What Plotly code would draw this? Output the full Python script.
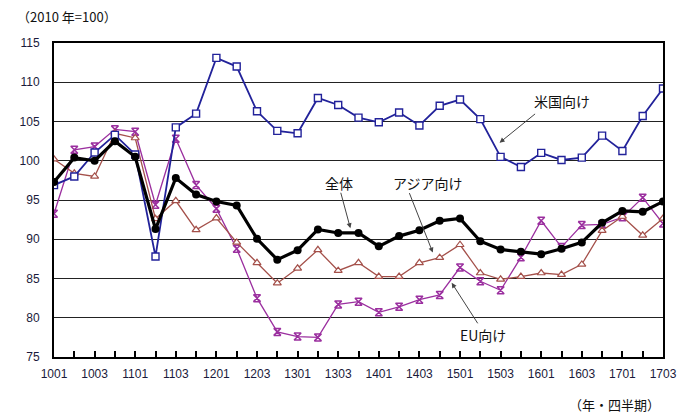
import plotly.graph_objects as go

quarters = ["1001", "1002", "1003", "1004", "1101", "1102", "1103", "1104",
            "1201", "1202", "1203", "1204", "1301", "1302", "1303", "1304",
            "1401", "1402", "1403", "1404", "1501", "1502", "1503", "1504",
            "1601", "1602", "1603", "1604", "1701", "1702", "1703"]

total = [97.3, 100.4, 100.0, 102.5, 100.5, 91.3, 97.8, 95.7,
         94.8, 94.3, 90.05, 87.4, 88.6, 91.25, 90.8, 90.8,
         89.1, 90.4, 91.15, 92.35, 92.65, 89.75, 88.7, 88.4,
         88.1, 88.8, 89.6, 92.1, 93.6, 93.5, 94.8]

usa = [96.9, 98.0, 101.05, 103.3, 100.8, 87.8, 104.25, 106.0,
       113.1, 112.0, 106.3, 103.8, 103.5, 108.0, 107.1, 105.5,
       104.9, 106.15, 104.5, 107.0, 107.8, 105.3, 100.5, 99.2,
       101.0, 100.1, 100.4, 103.2, 101.25, 105.7, 109.2]

asia = [100.2, 98.4, 98.0, 103.5, 102.9, 92.6, 94.9, 91.2,
        92.7, 89.6, 87.0, 84.4, 86.3, 88.65, 86.0, 87.0,
        85.25, 85.25, 87.0, 87.65, 89.3, 85.7, 84.9, 85.25,
        85.7, 85.5, 86.8, 91.1, 92.9, 90.5, 92.65]

eu = [93.25, 101.4, 101.8, 104.0, 103.7, 94.4, 102.8, 96.9,
      93.9, 88.8, 82.5, 78.2, 77.6, 77.5, 81.7, 82.05,
      80.7, 81.4, 82.3, 82.9, 86.4, 84.65, 83.5, 87.7,
      92.35, 89.0, 91.8, 91.9, 92.8, 95.3, 92.0]

y_ticks = [75, 80, 85, 90, 95, 100, 105, 110, 115]

JP = "Noto Sans CJK JP"
LAT = "Liberation Sans"

fig = go.Figure()

fig.add_trace(go.Scatter(
    x=quarters, y=eu, mode="lines+markers", name="EU向け",
    line=dict(color="#9b2f9f", width=1.3),
    marker=dict(symbol="hourglass-open", size=7, color="#9b2f9f",
                line=dict(width=1.5, color="#9b2f9f"))))

fig.add_trace(go.Scatter(
    x=quarters, y=asia, mode="lines+markers", name="アジア向け",
    line=dict(color="#a4504a", width=1.3),
    marker=dict(symbol="triangle-up", size=7, color="white",
                line=dict(width=1.2, color="#a4504a"))))

fig.add_trace(go.Scatter(
    x=quarters, y=usa, mode="lines+markers", name="米国向け",
    line=dict(color="#22229a", width=1.8),
    marker=dict(symbol="square", size=7, color="white",
                line=dict(width=1.4, color="#22229a"))))

fig.add_trace(go.Scatter(
    x=quarters, y=total, mode="lines+markers", name="全体",
    line=dict(color="black", width=3.2),
    marker=dict(symbol="circle", size=8, color="black")))

ann = []
label_font = dict(family=JP, size=14, color="#111")
arrow_kw = dict(showarrow=True, arrowhead=2, arrowsize=1, arrowwidth=1,
                arrowcolor="#444", text="")

# 米国向け
ann.append(dict(x=25.0, y=107.6, xref="x", yref="y", text="米国向け",
                showarrow=False, font=label_font))
ann.append(dict(x=21.95, y=102.3, xref="x", yref="y", ax=37, ay=-30, **arrow_kw))
# 全体
ann.append(dict(x=14.02, y=97.17, xref="x", yref="y", text="全体",
                showarrow=False, font=label_font))
ann.append(dict(x=14.6, y=91.4, xref="x", yref="y", ax=-10, ay=-37, **arrow_kw))
# アジア向け
ann.append(dict(x=18.42, y=97.17, xref="x", yref="y", text="アジア向け",
                showarrow=False, font=label_font))
ann.append(dict(x=18.66, y=88.3, xref="x", yref="y", ax=-24, ay=-61, **arrow_kw))
# EU向け
ann.append(dict(x=21.15, y=77.8, xref="x", yref="y", text="EU向け",
                showarrow=False, font=label_font))
ann.append(dict(x=19.59, y=84.45, xref="x", yref="y", ax=27, ay=42, **arrow_kw))

# unit labels
ann.append(dict(x=-0.0635, y=1.083, xref="paper", yref="paper",
                xanchor="left", yanchor="middle", showarrow=False,
                text="（2010 年=100）", font=dict(family=JP, size=13, color="#111")))
ann.append(dict(x=0.92, y=-0.152, xref="paper", yref="paper",
                xanchor="center", yanchor="middle", showarrow=False,
                text="（年・四半期）", font=dict(family=JP, size=13, color="#111")))

fig.update_layout(
    width=692, height=413,
    margin=dict(l=41, r=37, t=35, b=64),
    paper_bgcolor="white", plot_bgcolor="white",
    showlegend=False,
    annotations=ann,
    font=dict(family=LAT, size=12, color="#222"),
)

fig.update_xaxes(
    type="category", range=[0, 30],
    ticks="inside", ticklen=6, tickwidth=1.5, tickcolor="black",
    ticklabelstep=2, ticklabelstandoff=5,
    tickfont=dict(family=LAT, size=12, color="#1a1a3a"),
    showgrid=False, showline=True, linecolor="black", linewidth=2,
    mirror=True, zeroline=False,
)

fig.update_yaxes(
    range=[75, 115], tickvals=y_ticks,
    showgrid=True, gridcolor="#222", gridwidth=1.4,
    showline=True, linecolor="black", linewidth=2, mirror=True,
    ticks="", ticklabelstandoff=10, zeroline=False,
    tickfont=dict(family=LAT, size=12, color="#1a1a3a"),
)

fig.write_html("out.html")
